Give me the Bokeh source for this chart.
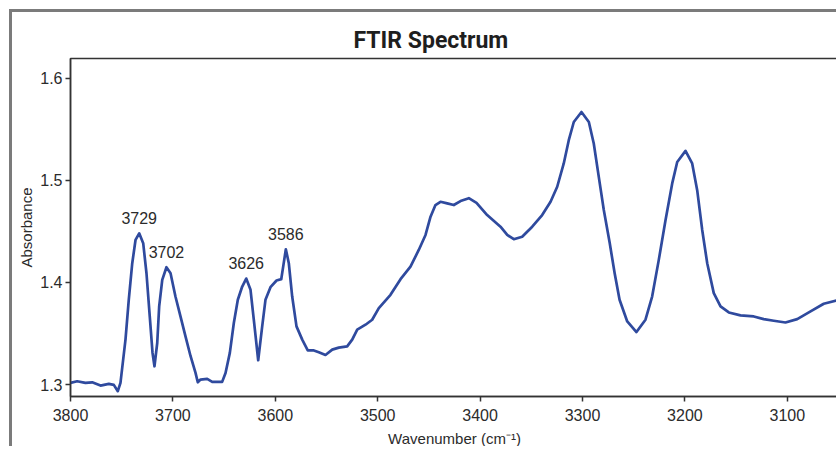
from bokeh.plotting import figure
from bokeh.models import Range1d, ColumnDataSource, FixedTicker
from bokeh.core.properties import value
from bokeh.embed import file_html
from bokeh.resources import INLINE

# Spectrum (wavenumber in cm^-1, absorbance)
wavenumber = [
    3800.0, 3793.5, 3785.4, 3778.8, 3770.7, 3762.6, 3757.7, 3753.8, 3751.2, 3746.3,
    3743.1, 3739.7, 3736.5, 3732.9, 3729.0, 3725.8, 3722.6, 3719.9, 3718.0, 3715.3,
    3713.4, 3710.4, 3706.3, 3702.3, 3697.5, 3692.6, 3687.7, 3682.8, 3677.9, 3675.7,
    3673.0, 3666.5, 3661.6, 3651.9, 3648.6, 3644.4, 3640.5, 3636.6, 3632.3, 3628.4,
    3624.2, 3621.0, 3616.7, 3612.8, 3609.6, 3604.7, 3598.8, 3594.2, 3592.3, 3589.7,
    3586.8, 3583.5, 3579.3, 3573.7, 3568.3, 3563.0, 3557.5, 3551.0, 3544.4, 3538.0,
    3529.8, 3524.9, 3520.0, 3511.9, 3505.4, 3498.9, 3487.5, 3477.7, 3468.0, 3459.9,
    3453.3, 3448.4, 3443.6, 3438.7, 3432.1, 3425.7, 3419.1, 3411.0, 3403.5, 3393.1,
    3380.1, 3373.5, 3367.1, 3358.9, 3349.1, 3339.4, 3331.2, 3324.7, 3318.3, 3313.4,
    3308.5, 3301.0, 3293.8, 3289.0, 3284.1, 3279.2, 3273.5, 3268.6, 3263.8, 3256.3,
    3247.3, 3238.5, 3232.0, 3225.5, 3218.9, 3212.4, 3207.5, 3199.4, 3192.9, 3188.0,
    3183.1, 3178.2, 3171.8, 3165.2, 3157.1, 3145.7, 3132.7, 3123.0, 3113.2, 3101.8,
    3090.3, 3077.3, 3064.4, 3049.7,
]
absorbance = [
    1.3016, 1.3032, 1.3016, 1.3022, 1.2990, 1.3007, 1.2997, 1.2935, 1.3016, 1.3440,
    1.3830, 1.4188, 1.4416, 1.4481, 1.4384, 1.4090, 1.3667, 1.3310, 1.3179, 1.3407,
    1.3765, 1.4025, 1.4149, 1.4090, 1.3862, 1.3667, 1.3472, 1.3280, 1.3114, 1.3022,
    1.3049, 1.3055, 1.3026, 1.3026, 1.3114, 1.3310, 1.3603, 1.3830, 1.3960, 1.4038,
    1.3928, 1.3635, 1.3238, 1.3570, 1.3830, 1.3954, 1.4019, 1.4032, 1.4155, 1.4325,
    1.4188, 1.3862, 1.3570, 1.3440, 1.3335, 1.3335, 1.3316, 1.3290, 1.3342, 1.3362,
    1.3374, 1.3440, 1.3537, 1.3586, 1.3635, 1.3749, 1.3879, 1.4032, 1.4155, 1.4318,
    1.4465, 1.4644, 1.4758, 1.4790, 1.4774, 1.4758, 1.4797, 1.4825, 1.4780, 1.4660,
    1.4546, 1.4465, 1.4423, 1.4448, 1.4546, 1.4660, 1.4790, 1.4937, 1.5165, 1.5393,
    1.5571, 1.5669, 1.5571, 1.5360, 1.5034, 1.4709, 1.4390, 1.4090, 1.3830, 1.3618,
    1.3514, 1.3635, 1.3862, 1.4221, 1.4611, 1.4970, 1.5180, 1.5288, 1.5165, 1.4904,
    1.4514, 1.4188, 1.3895, 1.3765, 1.3706, 1.3677, 1.3667, 1.3641, 1.3625, 1.3608,
    1.3641, 1.3716, 1.3791, 1.3830,
]

# Peak annotations
peak_labels = ["3729", "3702", "3626", "3586"]
peak_x = [3732.9, 3706.3, 3628.4, 3589.7]
peak_y = [1.4481, 1.4149, 1.4038, 1.4325]

x_ticks = [3800, 3700, 3600, 3500, 3400, 3300, 3200, 3100]
y_ticks = [1.3, 1.4, 1.5, 1.6]

FONT = "Liberation Sans"
TXT = "#2b2b2b"

p = figure(
    width=827, height=437,
    output_backend="svg", toolbar_location=None,
    x_range=Range1d(3800, 3050), y_range=Range1d(1.2883, 1.6193),
    title="FTIR Spectrum",
    min_border_left=58, min_border_right=1, min_border_top=46, min_border_bottom=52,
)
p.styles = {"border-left": "3px solid #7b7b7b", "border-top": "3px solid #7b7b7b",
            "margin-left": "9px", "margin-top": "9px"}

p.title.text_font = "Roboto"
p.title.text_font_size = "23px"
p.title.text_font_style = "bold"
p.title.text_color = "#1e1e1e"
p.title.align = "left"
p.title.offset = 283

p.xgrid.visible = False
p.ygrid.visible = False
p.outline_line_color = "#333333"
p.outline_line_width = 1.5
p.background_fill_color = "white"
p.border_fill_color = "white"

p.xaxis.ticker = FixedTicker(ticks=x_ticks)
p.yaxis.ticker = FixedTicker(ticks=y_ticks)
p.xaxis.axis_label = "Wavenumber (cm\u207b\u00b9)"
p.yaxis.axis_label = "Absorbance"
for ax in (p.xaxis[0], p.yaxis[0]):
    ax.axis_line_color = "#333333"
    ax.axis_line_width = 1.5
    ax.major_tick_line_color = "#333333"
    ax.major_tick_line_width = 1.5
    ax.major_tick_out = 5
    ax.major_tick_in = 0
    ax.minor_tick_line_color = None
    ax.major_label_text_font = FONT
    ax.major_label_text_font_size = "16px"
    ax.major_label_text_color = TXT
    ax.axis_label_text_font = FONT
    ax.axis_label_text_font_size = "15px"
    ax.axis_label_text_font_style = "normal"
    ax.axis_label_text_color = TXT
p.xaxis.major_label_standoff = 7
p.xaxis.axis_label_standoff = 6
p.yaxis.major_label_standoff = 3
p.yaxis.axis_label_standoff = 2

src = ColumnDataSource(data=dict(x=wavenumber, y=absorbance))
p.line("x", "y", source=src, line_color="#2f4a9e", line_width=2.7, line_join="round")

lab = ColumnDataSource(data=dict(x=peak_x, y=peak_y, t=peak_labels))
p.text("x", "y", text="t", source=lab, text_align="center", text_baseline="alphabetic",
       y_offset=-15.5, text_font=value(FONT), text_font_size="16px", text_color=TXT)

open("out.html", "w").write(file_html(p, INLINE))
